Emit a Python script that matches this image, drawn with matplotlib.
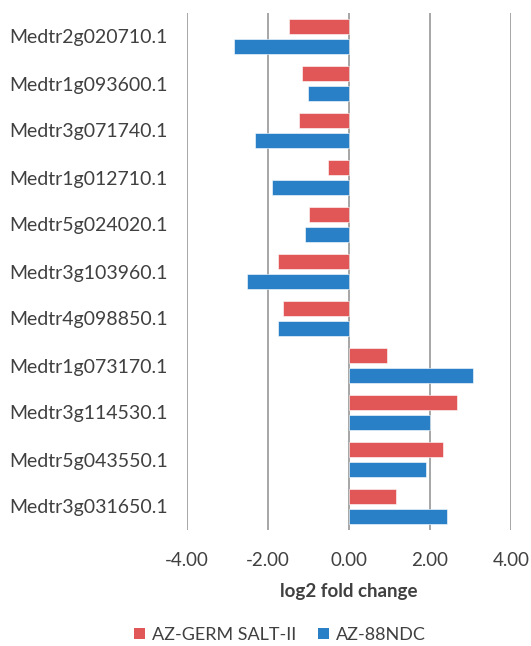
import matplotlib
matplotlib.use("Agg")
import matplotlib.pyplot as plt
import numpy as np
from matplotlib.patches import Patch

genes = ["Medtr2g020710.1", "Medtr1g093600.1", "Medtr3g071740.1", "Medtr1g012710.1",
         "Medtr5g024020.1", "Medtr3g103960.1", "Medtr4g098850.1", "Medtr1g073170.1",
         "Medtr3g114530.1", "Medtr5g043550.1", "Medtr3g031650.1"]
salt = [-1.47, -1.16, -1.23, -0.52, -0.99, -1.75, -1.62, 0.93, 2.67, 2.31, 1.17]
ndc = [-2.85, -1.01, -2.33, -1.90, -1.08, -2.51, -1.76, 3.06, 2.00, 1.89, 2.43]
series_names = ["AZ-GERM SALT-II", "AZ-88NDC"]
xticks = [-4, -2, 0, 2, 4]

plt.rcParams['font.family'] = ['Lato', 'DejaVu Sans']
red = '#E15656'
blue = '#2A80C6'
txt = '#404040'
fs = 13.5

fig = plt.figure(figsize=(5.31, 6.46), dpi=100)
ax = fig.add_axes([187/531, 1-530/646, 324/531, 517/646])

y = np.arange(len(genes))
h = 0.33
off = 0.21
ax.barh(y - off, salt, height=h, color=red, edgecolor='white', linewidth=0.4, zorder=3)
ax.barh(y + off, ndc, height=h, color=blue, edgecolor='white', linewidth=0.4, zorder=3)

ax.set_xlim(-4, 4)
ax.set_ylim(len(genes) - 0.5, -0.5)
ax.set_xticks(xticks)
ax.set_xticklabels([f"{v:.2f}" for v in xticks], fontsize=fs, color=txt)
ax.set_yticks(y)
ax.set_yticklabels(genes, fontsize=14, color=txt)
ax.tick_params(axis='both', length=0)
ax.tick_params(axis='x', pad=16)
ax.tick_params(axis='y', pad=14)
for s in ax.spines.values():
    s.set_visible(False)
ax.grid(axis='x', color='#A6A6A6', linewidth=1.4, zorder=0)
ax.set_xlabel("log2 fold change", fontsize=fs, fontweight='bold', color=txt, labelpad=10)

handles = [Patch(facecolor=red, label=series_names[0]), Patch(facecolor=blue, label=series_names[1])]
fig.legend(handles=handles, loc='center', bbox_to_anchor=(280/531, 1-635/646), ncol=2,
           frameon=False, fontsize=13, handlelength=0.6, handleheight=0.6,
           handletextpad=0.4, columnspacing=1.2, labelcolor=txt)

fig.savefig("out.png", dpi=100)
